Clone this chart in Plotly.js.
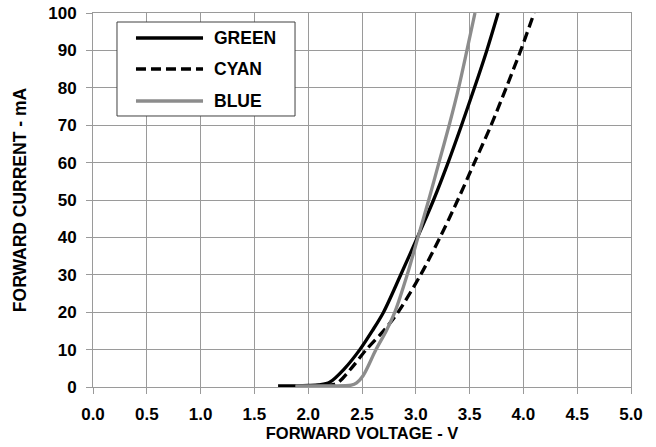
<!DOCTYPE html>
<html>
<head>
<meta charset="utf-8">
<script src="https://cdn.plot.ly/plotly-3.0.1.min.js"></script>
<style>
  html, body { margin: 0; padding: 0; background: #ffffff; }
  #chart { width: 656px; height: 447px; }
</style>
</head>
<body>
<div id="chart"></div>
<script>
// Forward current (mA) versus forward voltage (V) for three LED colours
var greenV = [1.72, 1.90, 2.00, 2.10, 2.20, 2.34, 2.48, 2.595, 2.70, 2.86, 3.015, 3.165, 3.30, 3.425, 3.545, 3.66, 3.765];
var greenI = [0.3, 0.3, 0.4, 0.6, 1.3, 5, 10, 15, 20, 30, 40, 50, 60, 70, 80, 90, 100];

var cyanV = [1.88, 2.10, 2.26, 2.40, 2.54, 2.70, 2.835, 3.045, 3.225, 3.39, 3.545, 3.70, 3.84, 3.975, 4.10];
var cyanI = [0.3, 0.4, 0.9, 5, 10, 15, 20, 30, 40, 50, 60, 70, 80, 90, 100];

var blueV = [1.88, 2.20, 2.40, 2.45, 2.51, 2.63, 2.725, 2.805, 2.92, 3.02, 3.12, 3.215, 3.31, 3.398, 3.475, 3.55];
var blueI = [0.3, 0.3, 0.5, 1.1, 3, 10, 15, 20, 30, 40, 50, 60, 70, 80, 90, 100];

var seriesNames = ['GREEN', 'CYAN', 'BLUE'];

var xTicks = [0.0, 0.5, 1.0, 1.5, 2.0, 2.5, 3.0, 3.5, 4.0, 4.5, 5.0];
var yTicks = [0, 10, 20, 30, 40, 50, 60, 70, 80, 90, 100];

var FONT = 'Liberation Sans, Arial, sans-serif';
var GRID = '#9a9a9a';

var styles = [
  { color: '#000000', width: 3.3, dash: 'solid' },
  { color: '#000000', width: 3.3, dash: '10px,5px' },
  { color: '#8c8c8c', width: 3.3, dash: 'solid' }
];
var xs = [greenV, cyanV, blueV];
var ys = [greenI, cyanI, blueI];

var traces = seriesNames.map(function (name, i) {
  return {
    x: xs[i], y: ys[i], name: name,
    mode: 'lines', type: 'scatter', showlegend: false,
    line: { color: styles[i].color, width: styles[i].width, dash: styles[i].dash,
            shape: 'spline', smoothing: 0.9 }
  };
});

// Legend panel in the upper-left corner of the plot (paper coordinates)
var legendBox = { x0: 0.0446, x1: 0.3755, y0: 0.7246, y1: 0.9759 };
var legendRowY = [0.9332, 0.8503, 0.7647];
var legendLineX = [0.0799, 0.2045];
var legendTextX = 0.2212;

var shapes = [{
  type: 'rect', xref: 'paper', yref: 'paper',
  x0: legendBox.x0, x1: legendBox.x1, y0: legendBox.y0, y1: legendBox.y1,
  fillcolor: '#ffffff', line: { color: '#404040', width: 1 }, layer: 'above'
}];
var annotations = [];
seriesNames.forEach(function (name, i) {
  shapes.push({
    type: 'line', xref: 'paper', yref: 'paper',
    x0: legendLineX[0], x1: legendLineX[1], y0: legendRowY[i], y1: legendRowY[i],
    line: { color: styles[i].color, width: styles[i].width, dash: styles[i].dash },
    layer: 'above'
  });
  annotations.push({
    xref: 'paper', yref: 'paper', x: legendTextX, y: legendRowY[i],
    xanchor: 'left', yanchor: 'middle', showarrow: false, text: name,
    font: { family: FONT, size: 17.5, weight: 'bold', color: '#000000' }
  });
});

var layout = {
  width: 656, height: 447,
  margin: { l: 93, r: 25, t: 13, b: 60, pad: 0 },
  paper_bgcolor: '#ffffff',
  plot_bgcolor: '#ffffff',
  showlegend: false,
  shapes: shapes,
  annotations: annotations,
  xaxis: {
    range: [0, 5], tickvals: xTicks, tickformat: '.1f',
    showgrid: true, gridcolor: GRID, gridwidth: 1,
    showline: true, linecolor: GRID, linewidth: 1, mirror: true,
    zeroline: false, ticks: 'outside', ticklen: 6, tickcolor: GRID,
    ticklabelstandoff: 6, layer: 'below traces',
    tickfont: { family: FONT, size: 17, weight: 'bold', color: '#000000' },
    title: { text: 'FORWARD VOLTAGE - V', standoff: 2,
             font: { family: FONT, size: 16.5, weight: 'bold', color: '#000000' } },
    fixedrange: true
  },
  yaxis: {
    range: [0, 100], tickvals: yTicks,
    showgrid: true, gridcolor: GRID, gridwidth: 1,
    showline: true, linecolor: GRID, linewidth: 1, mirror: true,
    zeroline: false, ticks: 'outside', ticklen: 6, tickcolor: GRID,
    ticklabelstandoff: 6, layer: 'below traces',
    tickfont: { family: FONT, size: 17, weight: 'bold', color: '#000000' },
    title: { text: 'FORWARD CURRENT - mA', standoff: 17,
             font: { family: FONT, size: 17.5, weight: 'bold', color: '#000000' } },
    fixedrange: true
  }
};

Plotly.newPlot('chart', traces, layout, { staticPlot: true, displayModeBar: false });
</script>
</body>
</html>
